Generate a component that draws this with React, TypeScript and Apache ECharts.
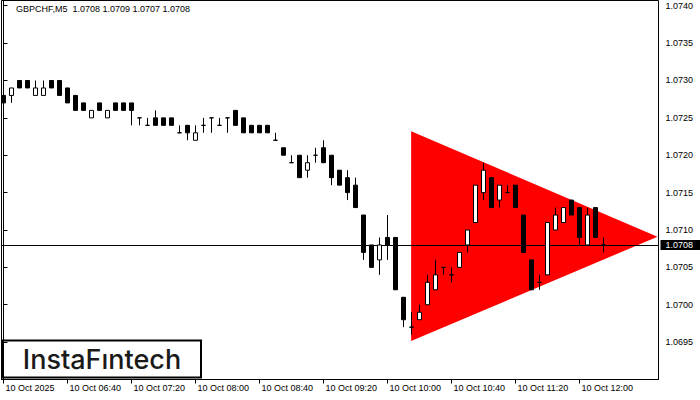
import React, { useEffect, useRef } from "react";
import * as echarts from "echarts";

const symbolTitle = "GBPCHF,M5  1.0708 1.0709 1.0707 1.0708";

// 5-minute bars from 10 Oct 2025 06:00 (bar index = x)
const opens = [
  1.0728, 1.0728, 1.073, 1.073, 1.0728, 1.0728, 1.073, 1.073, 1.0729, 1.0728,
  1.0727, 1.0725, 1.0727, 1.0725, 1.0727, 1.0727, 1.0727, 1.0725, 1.0724, 1.0725,
  1.0725, 1.0725, 1.0723, 1.0724, 1.0722, 1.0724, 1.0725, 1.0724, 1.0725, 1.0726,
  1.0725, 1.0724, 1.0724, 1.0724, 1.0722, 1.0721, 1.0719, 1.072, 1.0718, 1.072,
  1.0721, 1.072, 1.0718, 1.0717, 1.0716, 1.0712, 1.0708, 1.0706, 1.0709, 1.0709,
  1.0701, 1.0697, 1.0698, 1.07, 1.0702, 1.0705, 1.0704, 1.0705, 1.0708, 1.0711,
  1.0715, 1.0717, 1.0714, 1.0715, 1.0716, 1.0712, 1.0706, 1.0703, 1.0704, 1.071,
  1.0711, 1.0714, 1.0713, 1.0708, 1.0713, 1.0708,
];
const closes = [
  1.0727, 1.0729, 1.0729, 1.0729, 1.0729, 1.0729, 1.0729, 1.0728, 1.0727, 1.0726,
  1.0726, 1.0726, 1.0726, 1.0726, 1.0726, 1.0726, 1.0726, 1.0725, 1.0724, 1.0724,
  1.0724, 1.0724, 1.0723, 1.0723, 1.0723, 1.0724, 1.0725, 1.0724, 1.0725, 1.0724,
  1.0723, 1.0723, 1.0723, 1.0723, 1.0722, 1.072, 1.0719, 1.0717, 1.0719, 1.072,
  1.0719, 1.0717, 1.0716, 1.0715, 1.0713, 1.0707, 1.0705, 1.0708, 1.0708, 1.0702,
  1.0698, 1.0697, 1.0699, 1.0703, 1.0704, 1.0705, 1.0704, 1.0707, 1.071, 1.0716,
  1.0718, 1.0713, 1.0716, 1.0715, 1.0713, 1.0707, 1.0702, 1.0703, 1.0711, 1.0712,
  1.0713, 1.0712, 1.0709, 1.0712, 1.0709, 1.0708,
];
const lows = [
  1.0727, 1.0727, 1.0729, 1.0729, 1.0728, 1.0728, 1.0729, 1.0728, 1.0727, 1.0726,
  1.0726, 1.0725, 1.0726, 1.0725, 1.0726, 1.0726, 1.0724, 1.0724, 1.0724, 1.0724,
  1.0724, 1.0724, 1.0723, 1.0722, 1.0722, 1.0723, 1.0723, 1.0724, 1.0723, 1.0724,
  1.0723, 1.0723, 1.0723, 1.0723, 1.0722, 1.072, 1.0719, 1.0717, 1.0717, 1.0719,
  1.0719, 1.0716, 1.0716, 1.0714, 1.0713, 1.0706, 1.0705, 1.0704, 1.0706, 1.0702,
  1.0697, 1.0696, 1.0698, 1.07, 1.0702, 1.0704, 1.0703, 1.0705, 1.0707, 1.0711,
  1.0714, 1.0713, 1.0713, 1.0715, 1.0713, 1.0707, 1.0702, 1.0702, 1.0704, 1.071,
  1.0711, 1.0712, 1.0708, 1.0708, 1.0709, 1.0707,
];
const highs = [
  1.0728, 1.0729, 1.073, 1.073, 1.073, 1.073, 1.073, 1.073, 1.0729, 1.0728,
  1.0727, 1.0726, 1.0727, 1.0726, 1.0727, 1.0727, 1.0727, 1.0725, 1.0725, 1.0726,
  1.0725, 1.0725, 1.0724, 1.0724, 1.0724, 1.0725, 1.0725, 1.0725, 1.0725, 1.0726,
  1.0725, 1.0724, 1.0724, 1.0724, 1.0723, 1.0721, 1.072, 1.072, 1.072, 1.0721,
  1.0722, 1.072, 1.0718, 1.0718, 1.0717, 1.0712, 1.0708, 1.0709, 1.0712, 1.0709,
  1.0701, 1.0699, 1.07, 1.0704, 1.0706, 1.0705, 1.0705, 1.0707, 1.071, 1.0716,
  1.0719, 1.0717, 1.0716, 1.0716, 1.0716, 1.0712, 1.0706, 1.0704, 1.0711, 1.0713,
  1.0713, 1.0714, 1.0713, 1.0713, 1.0713, 1.0709,
];

const timeLabels = [
  "10 Oct 2025",
  "10 Oct 06:40",
  "10 Oct 07:20",
  "10 Oct 08:00",
  "10 Oct 08:40",
  "10 Oct 09:20",
  "10 Oct 10:00",
  "10 Oct 10:40",
  "10 Oct 11:20",
  "10 Oct 12:00",
];
const barsPerLabel = 8;

const bidPrice = 1.0708;

// Symmetrical triangle pattern (bar index, price)
const triangleBars = [50.95, 50.95, 81.75];
const trianglePrices = [1.07232, 1.069515, 1.07091];

const FONT = "Liberation Sans";

export default function App() {
  const ref = useRef<HTMLDivElement>(null);
  useEffect(() => {
    const chart = echarts.init(ref.current!, null, { renderer: "svg" });
    const candleData = opens.map((o, i) => [i, o, closes[i], lows[i], highs[i]]);
    const labelBars = timeLabels.map((_, i) => i * barsPerLabel);
    chart.setOption({
      animation: false,
      backgroundColor: "#ffffff",
      title: {
        text: symbolTitle,
        left: 16,
        top: 4,
        padding: 0,
        textStyle: { fontSize: 9, fontWeight: "normal", fontFamily: FONT, color: "#000" },
      },
      grid: {
        left: 1.5,
        top: 0.5,
        right: 41.5,
        bottom: 20.5,
        show: true,
        borderColor: "#000",
        borderWidth: 1,
        backgroundColor: "transparent",
      },
      xAxis: {
        type: "value",
        min: -0.25,
        max: 81.875,
        axisLine: { show: true, lineStyle: { color: "#000", width: 1 } },
        axisTick: {
          show: true,
          length: 4,
          customValues: labelBars,
          lineStyle: { color: "#000" },
        },
        splitLine: { show: false },
        axisLabel: {
          customValues: labelBars,
          align: "left",
          margin: 4,
          padding: [0, 0, 0, 2],
          fontSize: 9,
          fontFamily: FONT,
          color: "#000",
          formatter: (v: number) => timeLabels[Math.round(v / barsPerLabel)] ?? "",
        },
      },
      yAxis: {
        type: "value",
        position: "right",
        min: 1.069,
        max: 1.07407,
        interval: 0.0005,
        scale: true,
        axisLine: { show: true, lineStyle: { color: "#000", width: 1 } },
        axisTick: { show: true, length: 4, lineStyle: { color: "#000" } },
        splitLine: { show: false },
        axisLabel: {
          showMinLabel: false,
          showMaxLabel: false,
          margin: 7,
          fontSize: 9,
          fontFamily: FONT,
          color: "#000",
          formatter: (v: number) => v.toFixed(4),
        },
      },
      graphic: [
        {
          type: "group",
          z: 10,
          children: [
            {
              type: "rect",
              shape: { x: 2, y: 340.5, width: 199, height: 37 },
              style: { fill: "#fff", stroke: "#000", lineWidth: 2 },
            },
            {
              type: "text",
              x: 102,
              y: 359,
              style: {
                text: "InstaFıntech",
                fontSize: 27,
                fontWeight: 500,
                fontFamily: "Inter",
                fill: "#1a1a1a",
                align: "center",
                verticalAlign: "middle",
              },
            },
          ],
        },
      ],
      series: [
        {
          type: "custom",
          z: 1,
          silent: true,
          data: [[triangleBars[0], trianglePrices[0]]],
          renderItem: (_params: any, api: any) => {
            const pts = triangleBars.map((b, i) => api.coord([b, trianglePrices[i]]));
            return {
              type: "polygon",
              shape: { points: pts },
              style: { fill: "#ff0000", stroke: "none" },
            };
          },
        },
        {
          type: "candlestick",
          z: 3,
          barWidth: 4,
          silent: true,
          data: candleData,
          itemStyle: {
            color: "#ffffff",
            color0: "#000000",
            borderColor: "#000000",
            borderColor0: "#000000",
            borderColorDoji: "#000000",
            borderWidth: 1,
          },
          markLine: {
            z: 2,
            silent: true,
            precision: 4,
            symbol: "none",
            lineStyle: { color: "#000", width: 1, type: "solid" },
            label: {
              show: true,
              position: "end",
              distance: 2,
              formatter: () => bidPrice.toFixed(4),
              backgroundColor: "#000",
              color: "#fff",
              fontSize: 9,
              fontFamily: FONT,
              lineHeight: 10,
              padding: [0, 7, 0, 5],
            },
            data: [{ yAxis: bidPrice }],
          },
        },
      ],
    });
    return () => chart.dispose();
  }, []);
  return (
    <div
      ref={ref}
      style={{ position: "absolute", left: 0, top: 0, width: 700, height: 400 }}
    />
  );
}
